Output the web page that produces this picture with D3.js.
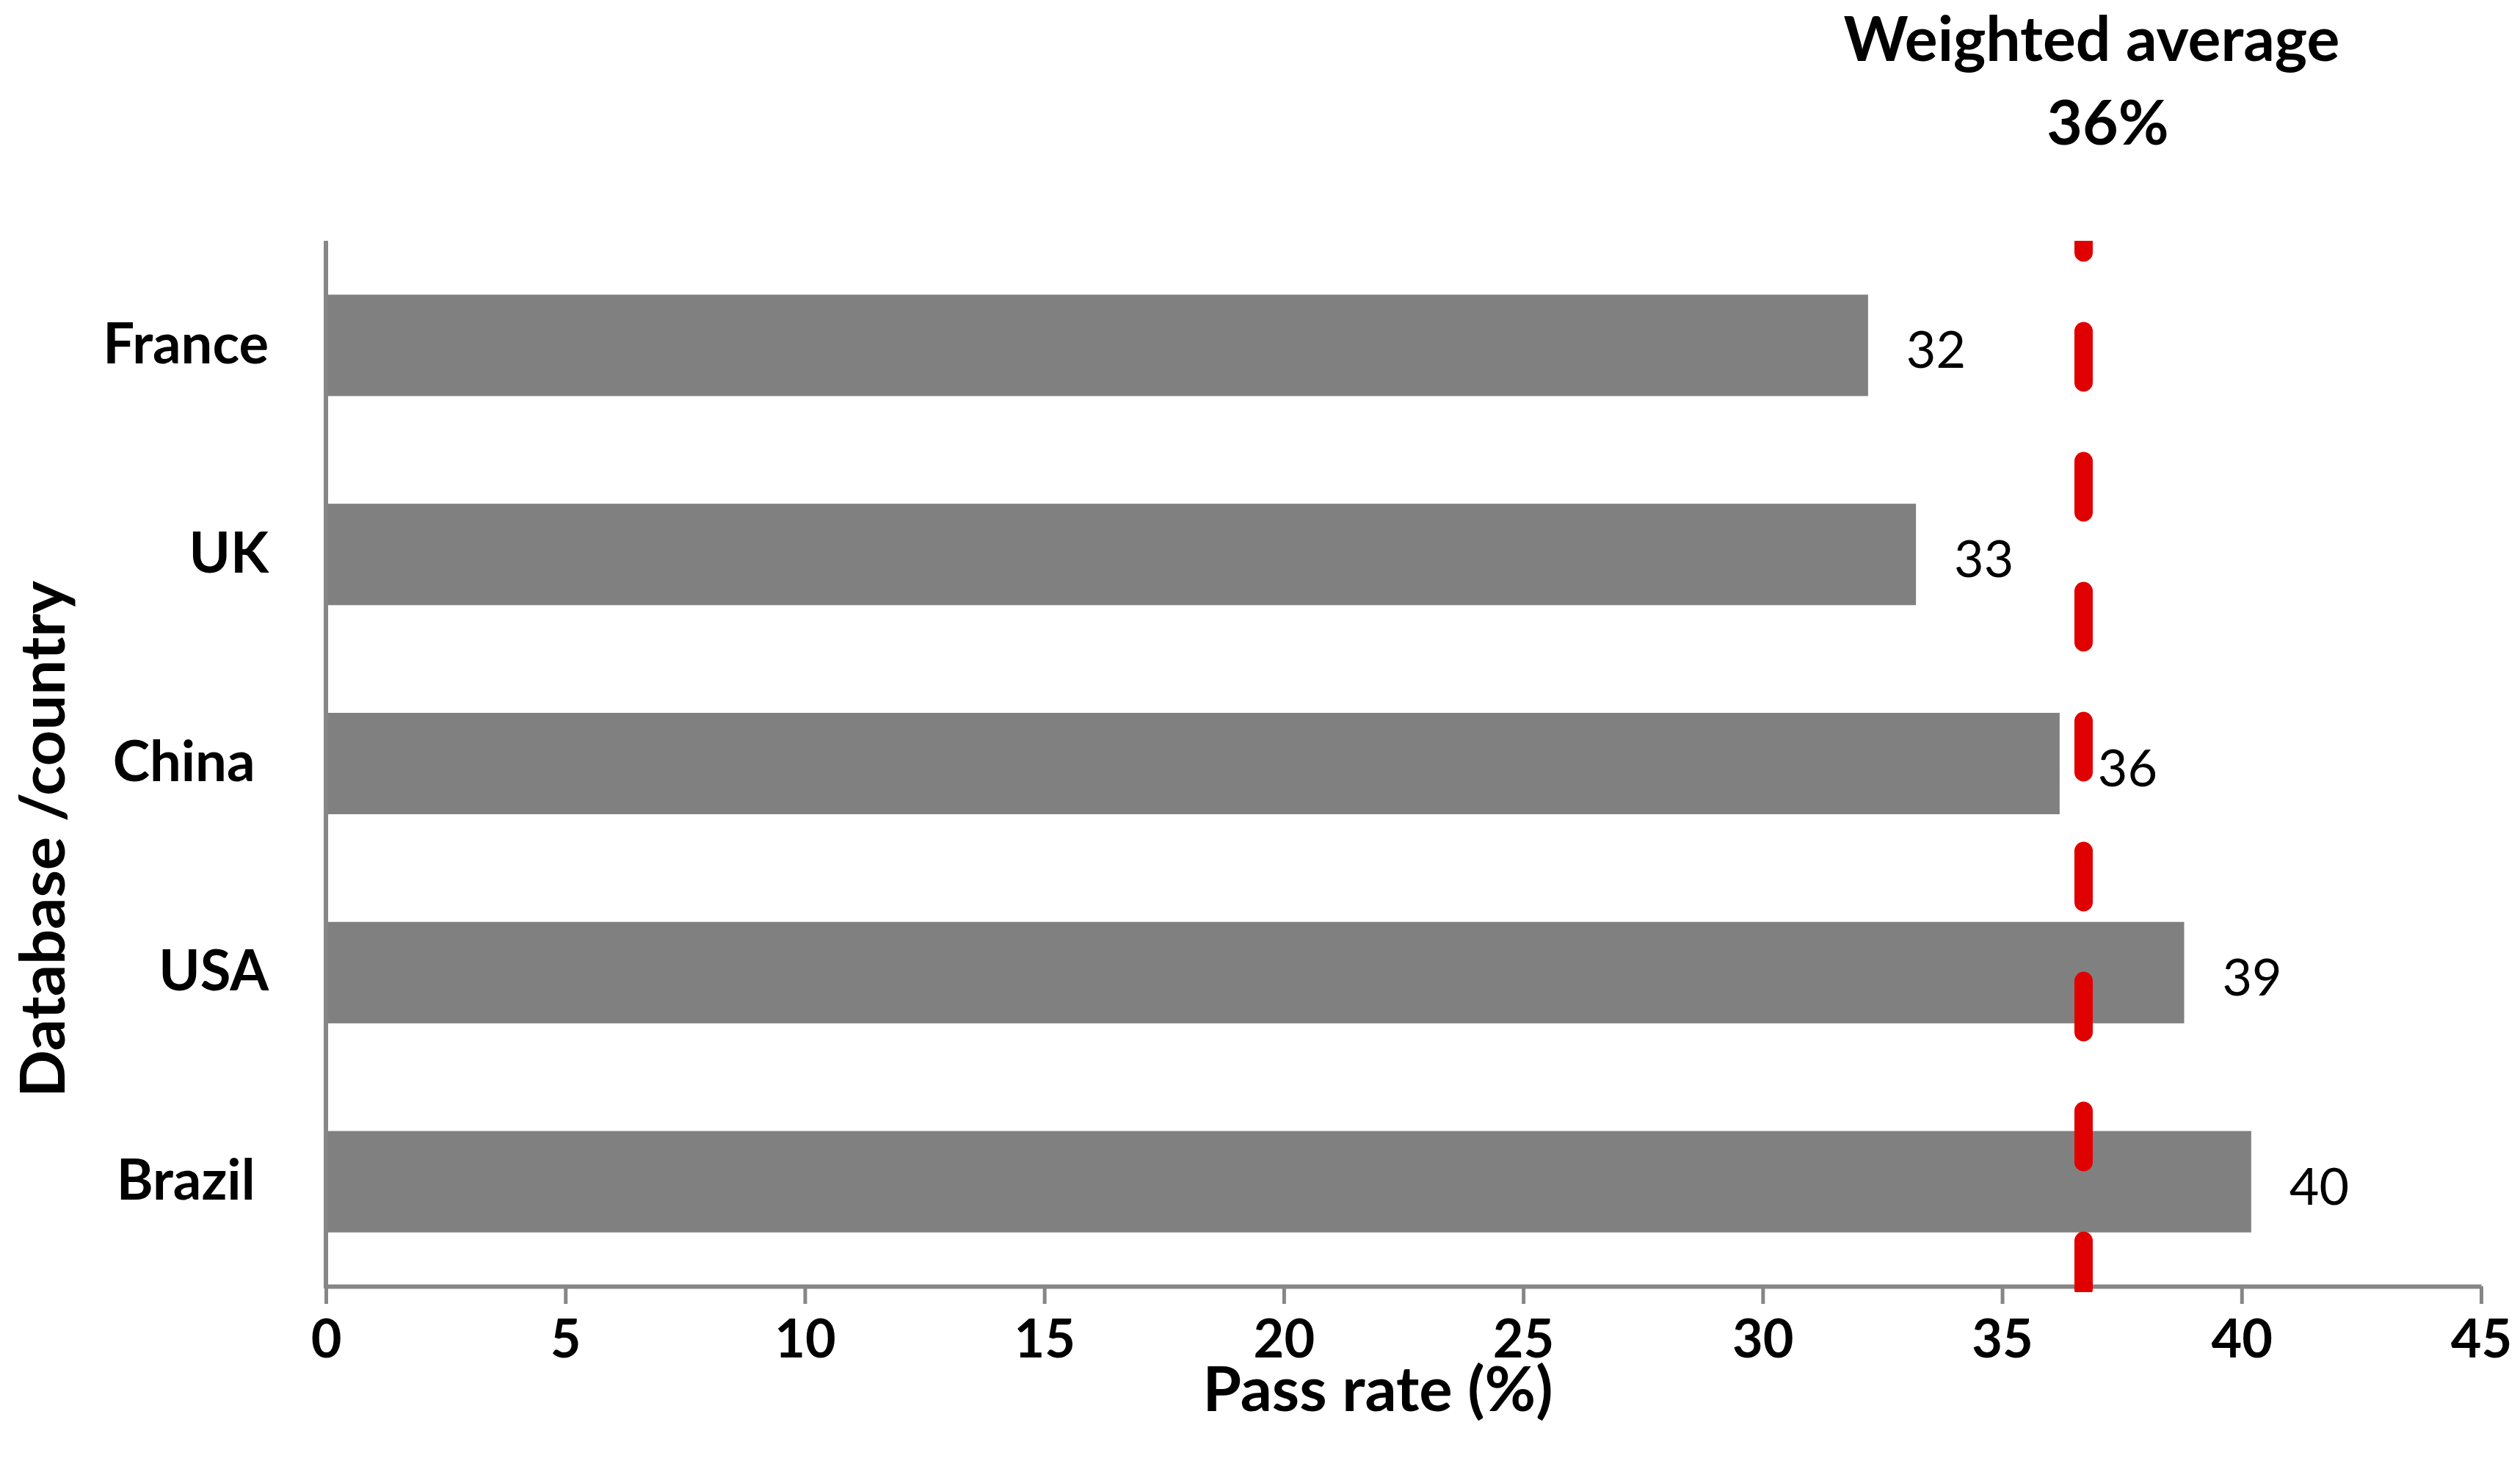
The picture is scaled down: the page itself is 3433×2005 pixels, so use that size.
<!DOCTYPE html>
<html>

<head>
    <title>Pass rate</title>
    <script src="https://cdn.jsdelivr.net/npm/d3@7"></script>
    <style>
        body { margin: 0; background: #fff; }
        text { font-family: Lato, "Open Sans", sans-serif; }
    </style>
</head>

<body>
    <svg width="3433" height="2005" id="mainsvg"></svg>
    <script>
        // data
        const countries = ['France', 'UK', 'China ', 'USA', 'Brazil '];
        const passRate = [32.2, 33.2, 36.2, 38.8, 40.2];
        const rateLabels = ['32', '33', '36', '39', '40'];
        const xTicks = [0, 5, 10, 15, 20, 25, 30, 35, 40, 45];
        const weightedAvg = 36.7;
        const avgTitle = ['Weighted average', '36%'];

        const svg = d3.select('svg');
        const margin = { top: 328, right: 53, bottom: 253, left: 444 };
        const width = +svg.attr('width');
        const height = +svg.attr('height');
        const innerW = width - margin.left - margin.right;
        const innerH = height - margin.top - margin.bottom;

        const x = d3.scaleLinear().domain([0, 45]).range([margin.left, margin.left + innerW]);
        const y = d3.scaleBand().domain(countries)
            .range([margin.top, margin.top + innerH])
            .paddingInner(0.515).paddingOuter(0.2575);

        const axisColor = '#868686';

        // bars
        svg.append('g').selectAll('rect').data(countries).join('rect')
            .attr('x', x(0))
            .attr('y', d => y(d))
            .attr('width', (d, i) => x(passRate[i]) - x(0))
            .attr('height', y.bandwidth())
            .attr('fill', '#808080');

        // value labels
        svg.append('g').selectAll('text').data(countries).join('text')
            .attr('x', (d, i) => x(passRate[i]) + 52)
            .attr('y', d => y(d) + y.bandwidth() / 2 + 4)
            .attr('dominant-baseline', 'central')
            .attr('font-size', 70)
            .attr('fill', '#000')
            .text((d, i) => rateLabels[i]);

        // x axis
        const xAxis = svg.append('g')
            .attr('transform', `translate(0,${margin.top + innerH})`)
            .call(d3.axisBottom(x).tickValues(xTicks).tickSize(24).tickPadding(22).tickSizeOuter(0));
        xAxis.select('.domain').attr('stroke', axisColor).attr('stroke-width', 6);
        xAxis.selectAll('.tick line').attr('stroke', axisColor).attr('stroke-width', 5);
        xAxis.selectAll('.tick text')
            .attr('font-size', 72).attr('font-weight', 'bold')
            .attr('font-family', 'Lato').attr('fill', '#000');

        // y axis (line only, no ticks)
        const yAxis = svg.append('g')
            .attr('transform', `translate(${margin.left},0)`)
            .call(d3.axisLeft(y).tickSize(0).tickPadding(78));
        yAxis.select('.domain').attr('stroke', axisColor).attr('stroke-width', 6)
            .attr('d', `M0,${margin.top}V${margin.top + innerH + 3}`);
        yAxis.selectAll('.tick text')
            .attr('font-size', 76).attr('font-weight', 'bold')
            .attr('font-family', 'Lato').attr('fill', '#000')
            .style('white-space', 'pre');

        // weighted average line
        svg.append('clipPath').attr('id', 'plotclip')
            .append('rect')
            .attr('x', margin.left).attr('y', margin.top)
            .attr('width', innerW).attr('height', innerH + 8);
        svg.append('line')
            .attr('clip-path', 'url(#plotclip)')
            .attr('x1', x(weightedAvg)).attr('x2', x(weightedAvg))
            .attr('y1', margin.top).attr('y2', margin.top + innerH + 4)
            .attr('stroke', '#e00000')
            .attr('stroke-width', 25)
            .attr('stroke-linecap', 'round')
            .attr('stroke-dasharray', '70 107')
            .attr('stroke-dashoffset', 54);

        // title over the average line
        svg.append('g').selectAll('text').data(avgTitle).join('text')
            .attr('x', (d, i) => x(weightedAvg) + (i === 0 ? 11 : 33))
            .attr('y', (d, i) => 83 + i * 114)
            .attr('text-anchor', 'middle')
            .attr('font-size', 84)
            .attr('font-weight', 'bold')
            .attr('fill', '#000')
            .text(d => d);

        // axis titles
        svg.append('text')
            .attr('x', 1877).attr('y', 1922)
            .attr('text-anchor', 'middle')
            .attr('font-size', 85).attr('font-weight', 'bold')
            .text('Pass rate (%)');

        svg.append('text')
            .attr('transform', `translate(88,${1143}) rotate(-90)`)
            .attr('text-anchor', 'middle')
            .attr('font-size', 85).attr('font-weight', 'bold')
            .text('Database /country');
    </script>
</body>

</html>
